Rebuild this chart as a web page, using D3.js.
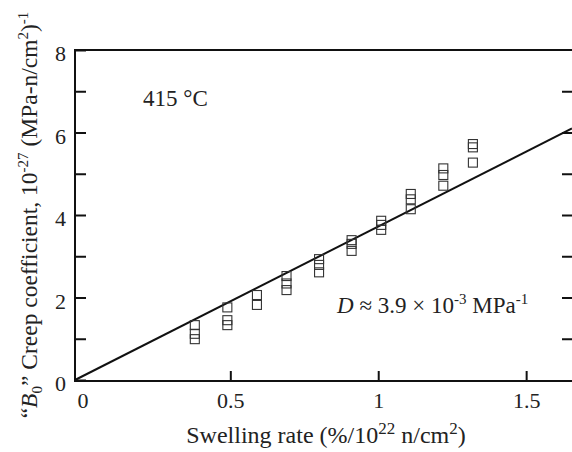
<!DOCTYPE html>
<html>
<head>
<meta charset="utf-8">
<script src="https://cdn.jsdelivr.net/npm/d3@7"></script>
<style>
  body { margin: 0; background: #fff; }
  text { font-family: "Liberation Serif", "Times New Roman", serif; fill: #222; }
</style>
</head>
<body>
<div id="chart"></div>
<script>
// swelling rate (%/10^22 n/cm^2) for each measured point
var swellRate = [0.38, 0.38, 0.38, 0.49, 0.49, 0.49, 0.59, 0.59,
  0.69, 0.69, 0.69, 0.80, 0.80, 0.80, 0.91, 0.91, 0.91,
  1.01, 1.01, 1.01, 1.11, 1.11, 1.11, 1.22, 1.22, 1.22, 1.32, 1.32, 1.32]
// B0 creep coefficient, 10^-27 (MPa-n/cm^2)^-1
var creepCoef = [1.33, 1.12, 0.99, 1.76, 1.45, 1.33, 2.06, 1.82,
  2.52, 2.34, 2.18, 2.93, 2.79, 2.61, 3.39, 3.30, 3.13,
  3.86, 3.76, 3.64, 4.51, 4.38, 4.14, 5.13, 4.97, 4.71, 5.72, 5.64, 5.27]
// fitted line endpoints
var fitX = [-0.025, 1.655]
var fitY = [0, 6.10]
var xTicks = [0, 0.5, 1, 1.5]
var xTickLabels = ['0', '0.5', '1', '1.5']
var yTicks = [0, 1, 2, 3, 4, 5, 6, 7, 8]
var yTickLabels = ['0', '', '2', '', '4', '', '6', '', '8']

;(function(){
  var width = 572, height = 452
  var left = 75, right = 572, top = 50, bottom = 380

  var svg = d3.select('#chart').append('svg')
    .attr('width', width)
    .attr('height', height)

  var x = d3.scaleLinear().domain([-0.025, 1.655]).range([left, right])
  var y = d3.scaleLinear().domain([0, 8]).range([bottom, top])

  // frame
  svg.append('path')
    .attr('d', 'M' + (right + 2) + ',' + top + 'H' + left + 'V' + (bottom + 1) + 'H' + (right + 2))
    .attr('fill', 'none')
    .attr('stroke', '#111')
    .attr('stroke-width', 2)

  // left ticks (inward)
  var yAx = d3.axisLeft(y).tickValues(yTicks).tickSize(-11)
    .tickFormat(function(d, i){ return yTickLabels[i] })
  var gy = svg.append('g').attr('transform', 'translate(' + left + ',0)').call(yAx)
  gy.select('.domain').remove()
  gy.selectAll('.tick line').attr('stroke', '#111').attr('stroke-width', 2)
  gy.selectAll('.tick text').attr('font-size', 22).attr('x', -9).attr('dy', '0.48em')
    .style('font-family', '"Liberation Serif", serif').attr('fill', '#222')

  // right ticks (inward)
  var yAxR = d3.axisRight(y).tickValues(yTicks.slice(1, 8)).tickSize(-10).tickFormat('')
  var gyr = svg.append('g').attr('transform', 'translate(' + right + ',0)').call(yAxR)
  gyr.select('.domain').remove()
  gyr.selectAll('.tick line').attr('stroke', '#111').attr('stroke-width', 2)

  // bottom ticks (inward)
  var xAx = d3.axisBottom(x).tickValues(xTicks).tickSize(-10)
    .tickFormat(function(d, i){ return xTickLabels[i] })
  var gx = svg.append('g').attr('transform', 'translate(0,' + (bottom + 1) + ')').call(xAx)
  gx.select('.domain').remove()
  gx.selectAll('.tick line').attr('stroke', '#111').attr('stroke-width', 2)
    .attr('stroke-opacity', function(d){ return d === 0 ? 0 : 1 })
  gx.selectAll('.tick text').attr('font-size', 22).attr('y', 27).attr('dy', 0)
    .style('font-family', '"Liberation Serif", serif').attr('fill', '#222')

  // fit line
  svg.append('line')
    .attr('x1', x(fitX[0])).attr('y1', y(fitY[0]))
    .attr('x2', x(fitX[1])).attr('y2', y(fitY[1]))
    .attr('stroke', '#111')
    .attr('stroke-width', 2)

  // data squares
  var pts = swellRate.map(function(d, i){ return { x: d, y: creepCoef[i] } })
  var s = 9
  svg.selectAll('.pt')
    .data(pts)
    .enter().append('rect')
    .attr('class', 'pt')
    .attr('x', function(d){ return x(d.x) - s / 2 })
    .attr('y', function(d){ return y(d.y) - s / 2 })
    .attr('width', s)
    .attr('height', s)
    .attr('fill', 'none')
    .attr('stroke', '#333')
    .attr('stroke-width', 1.1)

  // annotations
  svg.append('text').attr('x', 143).attr('y', 106).attr('font-size', 23).text('415 °C')

  var d = svg.append('text').attr('x', 337).attr('y', 313).attr('font-size', 23)
  d.append('tspan').attr('font-style', 'italic').text('D')
  d.append('tspan').text(' ≈ 3.9 × 10')
  d.append('tspan').attr('font-size', 15).attr('dy', -9).text('-3')
  d.append('tspan').attr('dy', 9).text(' MPa')
  d.append('tspan').attr('font-size', 15).attr('dy', -9).text('-1')

  // x title
  var xt = svg.append('text').attr('x', 326).attr('y', 443).attr('text-anchor', 'middle').attr('font-size', 24)
  xt.append('tspan').text('Swelling rate (%/10')
  xt.append('tspan').attr('font-size', 17).attr('dy', -9).text('22')
  xt.append('tspan').attr('dy', 9).text(' n/cm')
  xt.append('tspan').attr('font-size', 17).attr('dy', -9).text('2')
  xt.append('tspan').attr('dy', 9).text(')')

  // y title
  var yt = svg.append('text')
    .attr('transform', 'translate(37,215) rotate(-90)')
    .attr('text-anchor', 'middle')
    .attr('font-size', 23.5)
  yt.append('tspan').text('“')
  yt.append('tspan').attr('font-style', 'italic').text('B')
  yt.append('tspan').attr('font-size', 15).attr('dy', 5).text('0')
  yt.append('tspan').attr('dy', -5).text('” Creep coefficient, 10')
  yt.append('tspan').attr('font-size', 15).attr('dy', -9).text('-27')
  yt.append('tspan').attr('dy', 9).text(' (MPa-n/cm')
  yt.append('tspan').attr('font-size', 15).attr('dy', -9).text('2')
  yt.append('tspan').attr('dy', 9).text(')')
  yt.append('tspan').attr('font-size', 15).attr('dy', -9).text('-1')
})()
</script>
</body>
</html>
